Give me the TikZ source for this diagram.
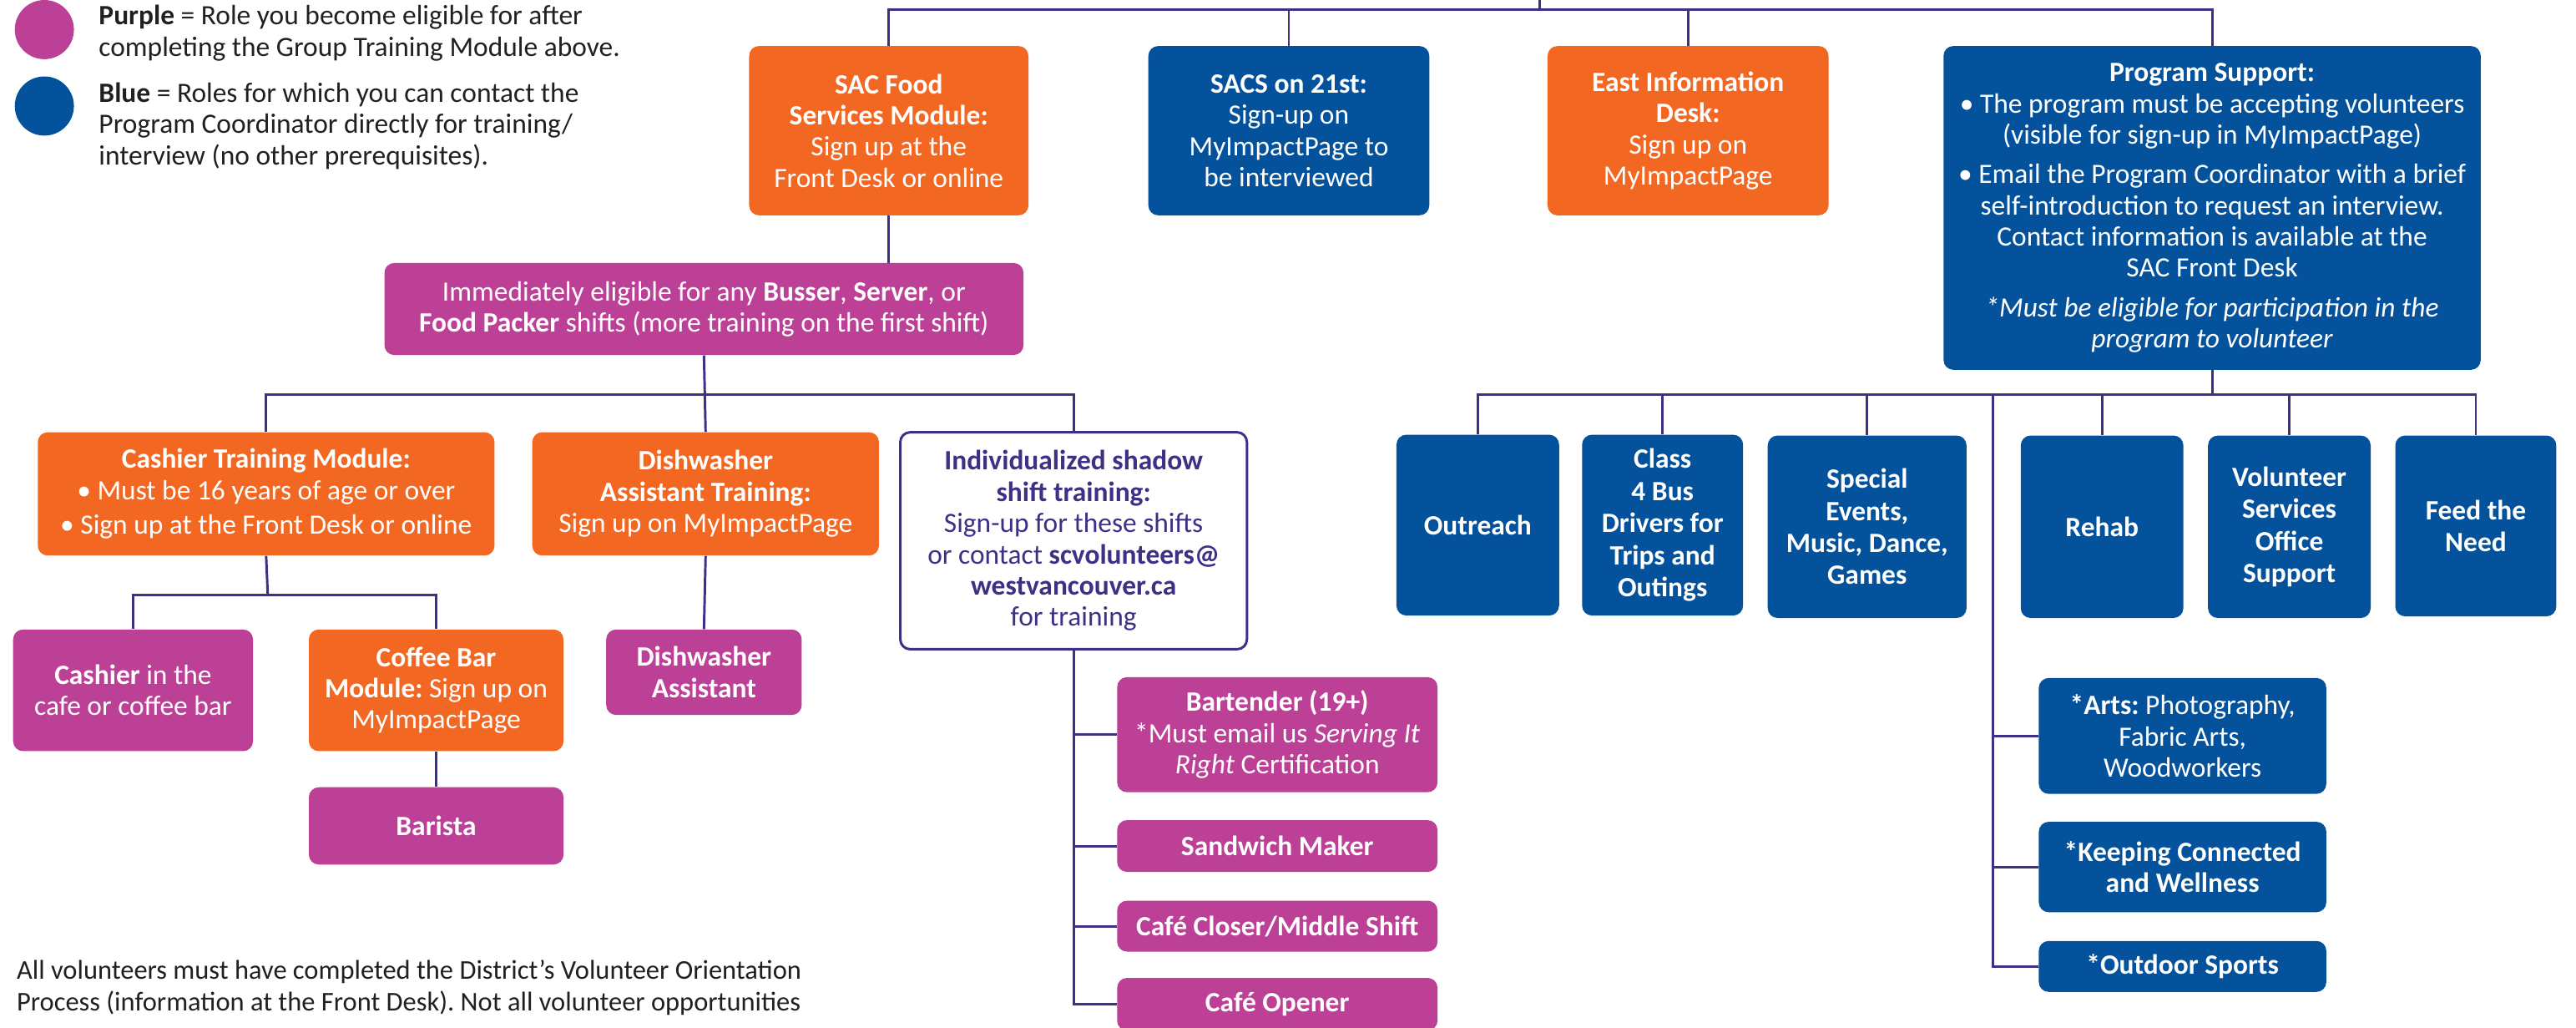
\documentclass[tikz,border=0pt]{standalone}
\usepackage{fontspec}
\setmainfont{Carlito}
\frenchspacing
\definecolor{orng}{RGB}{242,103,34}
\definecolor{blu}{RGB}{4,82,156}
\definecolor{purp}{RGB}{188,65,150}
\definecolor{linec}{RGB}{63,47,133}
\definecolor{txtc}{RGB}{35,31,32}

\begin{document}
\begin{tikzpicture}[x=1pt,y=1pt,yscale=-1,
  box/.style={rounded corners=6pt, inner sep=0pt, align=center, text=white, font=\fontsize{17}{19}\selectfont},
  orangebox/.style={box, fill=orng},
  bluebox/.style={box, fill=blu},
  purplebox/.style={box, fill=purp},
  outlinebox/.style={box, fill=white, draw=linec, line width=1.5pt, text=linec},
  rolebox/.style={bluebox, font=\fontsize{17}{19.5}\selectfont\bfseries, minimum width=99, minimum height=110},
  sidebox/.style={purplebox, minimum width=195},
  legendtext/.style={anchor=north west, align=left, inner sep=0pt, text=txtc, font=\fontsize{17}{19}\selectfont},
  link/.style={draw=linec, line width=1.5pt}]
\useasboundingbox (0,0) rectangle (1568,625);

% legend
\node[circle, fill=purp, minimum size=36, inner sep=0pt] (legpurple) at (27,18) {};
\node[circle, fill=blu, minimum size=36, inner sep=0pt] (legblue) at (27,64.5) {};
\node[legendtext] (legpurpletxt) at (60,3) {\textbf{Purple} = Role you become eligible for after\\completing the Group Training Module above.};
\node[legendtext] (legbluetxt) at (60,50) {\textbf{Blue} = Roles for which you can contact the\\Program Coordinator directly for training/\\interview (no other prerequisites).};

% top row
\node[orangebox, minimum width=170, minimum height=103] (sacfood) at (541,79.5)
  {\textbf{SAC Food}\\\textbf{Services Module:}\\Sign up at the\\Front Desk or online};
\node[bluebox, minimum width=171, minimum height=103] (sacs) at (784.5,79.5)
  {\textbf{SACS on 21st:}\\Sign-up on\\MyImpactPage to\\be interviewed};
\node[orangebox, minimum width=171, minimum height=103] (eastinfo) at (1027.5,79.5)
  {\textbf{East Information}\\\textbf{Desk:}\\Sign up on\\MyImpactPage};
\node[bluebox, minimum width=327, minimum height=197] (progsup) at (1346.5,126.5)
  {\textbf{Program Support:}\\\textbullet\ The program must be accepting volunteers\\(visible for sign-up in MyImpactPage)\\[5pt]
   \textbullet\ Email the Program Coordinator with a brief\\self-introduction to request an interview.\\Contact information is available at the\\SAC Front Desk\\[5pt]
   \textit{*Must be eligible for participation in the}\\\textit{program to volunteer}};

% food services branch
\node[purplebox, minimum width=389, minimum height=56] (imm) at (428.5,188)
  {Immediately eligible for any \textbf{Busser}, \textbf{Server}, or\\\textbf{Food Packer} shifts (more training on the first shift)};
\node[orangebox, minimum width=278, minimum height=75] (cashtrain) at (162,300.5)
  {\textbf{Cashier Training Module:}\\\textbullet\ Must be 16 years of age or over\\[2pt]\textbullet\ Sign up at the Front Desk or online};
\node[orangebox, minimum width=211, minimum height=75] (dishtrain) at (429.5,300.5)
  {\textbf{Dishwasher}\\\textbf{Assistant Training:}\\Sign up on MyImpactPage};
\node[outlinebox, minimum width=211, minimum height=132] (shadow) at (653.5,329)
  {\textbf{Individualized shadow}\\\textbf{shift training:}\\Sign-up for these shifts\\or contact \textbf{scvolunteers@}\\\textbf{westvancouver.ca}\\for training};

\node[purplebox, minimum width=146, minimum height=74] (cashier) at (81,420)
  {\textbf{Cashier} in the\\cafe or coffee bar};
\node[orangebox, minimum width=155, minimum height=74] (coffee) at (265.5,420)
  {\textbf{Coffee Bar}\\\textbf{Module:} Sign up on\\MyImpactPage};
\node[purplebox, minimum width=155, minimum height=47] (barista) at (265.5,502.5) {\textbf{Barista}};
\node[purplebox, minimum width=119, minimum height=52] (dishasst) at (428.5,409)
  {\textbf{Dishwasher}\\\textbf{Assistant}};

\node[sidebox, minimum height=70] (bartender) at (777.5,447)
  {\textbf{Bartender (19+)}\\*Must email us \textit{Serving It}\\\textit{Right} Certification};
\node[sidebox, minimum height=31.5] (sandwich) at (777.5,514.75) {\textbf{Sandwich Maker}};
\node[sidebox, minimum height=31] (closer) at (777.5,563.5) {\textbf{Café Closer/Middle Shift}};
\node[sidebox, minimum height=32] (opener) at (777.5,611) {\textbf{Café Opener}};

% program support branch
\node[rolebox] (outreach) at (899.5,319.5) {Outreach};
\node[rolebox, minimum width=98] (classbus) at (1012,319.5) {Class\\4 Bus\\Drivers for\\Trips and\\Outings};
\node[rolebox, minimum width=121, minimum height=111] (special) at (1136.5,320.5) {Special\\Events,\\Music, Dance,\\Games};
\node[rolebox, minimum height=111] (rehab) at (1279.5,320.5) {Rehab};
\node[rolebox, minimum height=111] (volserv) at (1393.5,320.5) {Volunteer\\Services\\Office\\Support};
\node[rolebox, minimum width=98] (feed) at (1507,320) {Feed the\\Need};

\node[bluebox, minimum width=175, minimum height=70.5] (arts) at (1328.5,447.75)
  {\textbf{*Arts:} Photography,\\Fabric Arts,\\Woodworkers};
\node[bluebox, minimum width=175, minimum height=55] (keeping) at (1328.5,527.5)
  {\textbf{*Keeping Connected}\\\textbf{and Wellness}};
\node[bluebox, minimum width=175, minimum height=31] (outdoor) at (1328.5,588) {\textbf{*Outdoor Sports}};

\node[anchor=north west, align=left, inner sep=0pt, text=txtc, font=\fontsize{16.5}{19}\selectfont] (orientation) at (10,584)
  {All volunteers must have completed the District's Volunteer Orientation\\Process (information at the Front Desk). Not all volunteer opportunities};

% connectors
\coordinate (topin) at (937,0);
\coordinate (topbar) at (937,6);
\coordinate (branchA) at (429,240);
\coordinate (branchB) at (163,362);
\coordinate (branchC) at (1346.5,240);
\coordinate (spine) at (1213,240);

\draw[link] (topin) -- (topbar);
\draw[link] (sacfood.north) |- (topbar) -| (progsup.north);
\draw[link] (sacs.north) -- (sacs.north |- topbar);
\draw[link] (eastinfo.north) -- (eastinfo.north |- topbar);
\draw[link] (sacfood.south) -- (sacfood.south |- imm.north);

\draw[link] (imm.south) -- (dishtrain.north);
\draw[link] (cashtrain.north) |- (branchA) -| (shadow.north);
\draw[link] (cashtrain.south) -- (branchB);
\draw[link] (cashier.north) |- (branchB) -| (coffee.north);
\draw[link] (coffee.south) -- (barista.north);
\draw[link] (dishtrain.south) -- (dishasst.north);
\draw[link] (shadow.south) |- (opener.west);
\foreach \n in {bartender,sandwich,closer}
  \draw[link] (shadow.south |- \n.west) -- (\n.west);

\draw[link] (progsup.south) -- (branchC);
\draw[link] (outreach.north) |- (branchC) -| (feed.north);
\foreach \n in {classbus,special,rehab,volserv}
  \draw[link] (\n.north) -- (\n.north |- branchC);
\draw[link] (spine) |- (outdoor.west);
\foreach \n in {arts,keeping}
  \draw[link] (spine |- \n.west) -- (\n.west);

\end{tikzpicture}
\end{document}
